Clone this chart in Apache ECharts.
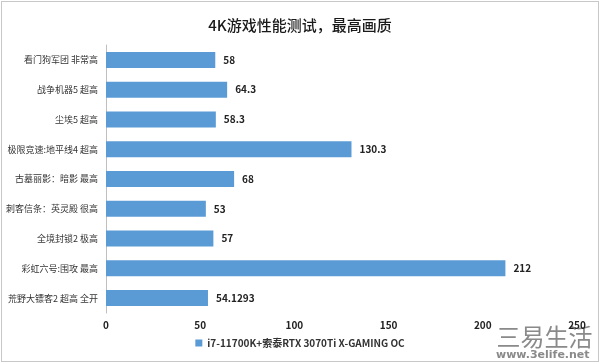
<!DOCTYPE html>
<html><head><meta charset="utf-8">
<script src="https://cdn.jsdelivr.net/npm/echarts@6/dist/echarts.min.js"></script>
<style>
html,body{margin:0;padding:0;background:#fff;}
#c{position:absolute;left:1px;top:1px;width:596px;height:359px;border:1px solid #c8c8c8;box-sizing:content-box;}
</style></head>
<body><div id="c"></div>
<script>
const titleText = '4K游戏性能测试，最高画质';
const seriesName = 'i7-11700K+索泰RTX 3070Ti X-GAMING OC';
const categories = ['看门狗军团 非常高','战争机器5 超高','尘埃5 超高','极限竞速:地平线4 超高','古墓丽影：暗影 最高','刺客信条：英灵殿 很高','全境封锁2 极高','彩虹六号:围攻 最高','荒野大镖客2 超高 全开'];
const values = [58, 64.3, 58.3, 130.3, 68, 53, 57, 212, 54.1293];
const xTicks = [0, 50, 100, 150, 200, 250];

const chart = echarts.init(document.getElementById('c'), null, {renderer:'canvas'});
const font = '"Noto Sans CJK SC", "Noto Sans", sans-serif';
chart.setOption({
  animation:false,
  textStyle:{fontFamily:font},
  title:{text:titleText,left:'center',top:11,textStyle:{fontSize:15,fontWeight:500,color:'#1a1a1a',fontFamily:font}},
  grid:{left:104,right:21,top:43,bottom:48,outerBoundsMode:'none',containLabel:false},
  xAxis:{type:'value',min:xTicks[0],max:xTicks[xTicks.length-1],interval:50,
    axisLine:{show:false},axisTick:{show:false},splitLine:{show:false},
    axisLabel:{color:'#222',fontSize:10,fontWeight:'bold',margin:7}},
  yAxis:{type:'category',data:categories,inverse:true,
    axisLine:{show:true,lineStyle:{color:'#bfbfbf',width:1}},axisTick:{show:false},
    axisLabel:{color:'#333',fontSize:9,margin:8}},
  legend:{bottom:8,left:'center',itemWidth:7,itemHeight:7,icon:'rect',
    textStyle:{fontSize:10,fontWeight:'bold',color:'#333'},itemGap:4},
  series:[{name:seriesName,type:'bar',data:values,barWidth:16,
    itemStyle:{color:'#5b9bd5'},
    label:{show:true,position:'right',distance:8,color:'#222',fontSize:10,fontWeight:'bold'}}],
  graphic:[
    {type:'text',left:494,top:322,style:{text:'三易生活',fontSize:24,fill:'#8a8a8a',stroke:'#fff',lineWidth:1,fontFamily:font}},
    {type:'text',left:494,top:348,style:{text:'www.3elife.net',fontSize:11,fontWeight:'bold',fill:'#8a8a8a',fontFamily:'DejaVu Sans'}}
  ]
});
</script></body></html>
